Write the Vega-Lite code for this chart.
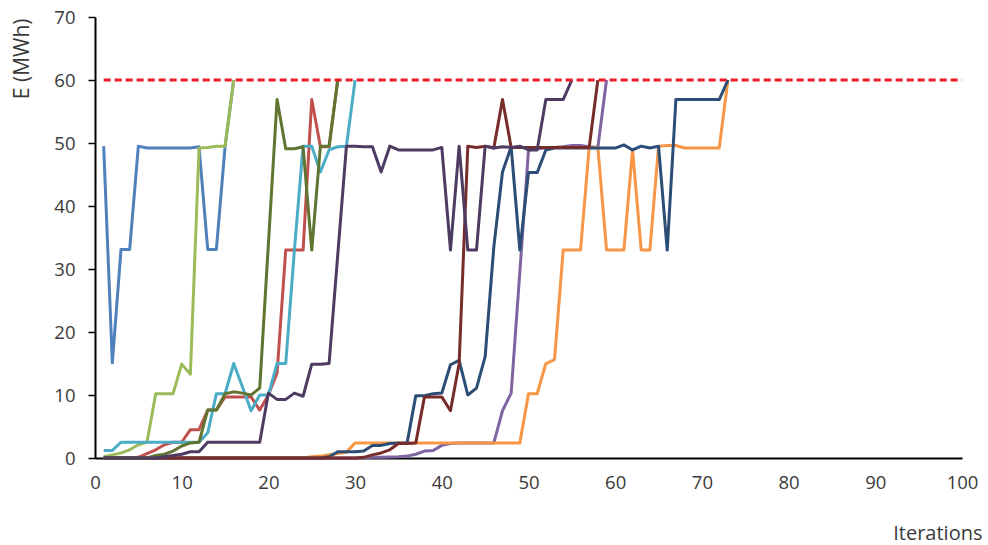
{
"$schema": "https://vega.github.io/schema/vega-lite/v6.json",
"width": 867, "height": 441,
"autosize": "none",
"padding": {"left": 95, "top": 17, "right": 26, "bottom": 87},
"background": "white",
"config": {"view": {"stroke": null}, "font": "Open Sans"},
"datasets": {
"ref": [{"x":1,"y":60},{"x":100,"y":60}],
"series": [
{"s":"s01","x":1,"y":49.5},{"s":"s01","x":2,"y":15.1},{"s":"s01","x":3,"y":33.1},{"s":"s01","x":4,"y":33.1},{"s":"s01","x":5,"y":49.5},{"s":"s01","x":6,"y":49.2},{"s":"s01","x":7,"y":49.2},{"s":"s01","x":8,"y":49.2},{"s":"s01","x":9,"y":49.2},{"s":"s01","x":10,"y":49.2},{"s":"s01","x":11,"y":49.2},{"s":"s01","x":12,"y":49.4},{"s":"s01","x":13,"y":33.1},{"s":"s01","x":14,"y":33.1},{"s":"s01","x":15,"y":49.4},{"s":"s01","x":16,"y":60},
{"s":"s02","x":1,"y":0},{"s":"s02","x":2,"y":0},{"s":"s02","x":3,"y":0},{"s":"s02","x":4,"y":0},{"s":"s02","x":5,"y":0.1},{"s":"s02","x":6,"y":0.7},{"s":"s02","x":7,"y":1.3},{"s":"s02","x":8,"y":2.1},{"s":"s02","x":9,"y":2.5},{"s":"s02","x":10,"y":2.5},{"s":"s02","x":11,"y":4.5},{"s":"s02","x":12,"y":4.5},{"s":"s02","x":13,"y":7.6},{"s":"s02","x":14,"y":7.6},{"s":"s02","x":15,"y":9.7},{"s":"s02","x":16,"y":9.7},{"s":"s02","x":17,"y":9.7},{"s":"s02","x":18,"y":9.7},{"s":"s02","x":19,"y":7.6},{"s":"s02","x":20,"y":10.0},{"s":"s02","x":21,"y":13.5},{"s":"s02","x":22,"y":33.0},{"s":"s02","x":23,"y":33.0},{"s":"s02","x":24,"y":33.0},{"s":"s02","x":25,"y":56.9},{"s":"s02","x":26,"y":49.4},{"s":"s02","x":27,"y":49.4},{"s":"s02","x":28,"y":60},
{"s":"s03","x":1,"y":0.2},{"s":"s03","x":2,"y":0.5},{"s":"s03","x":3,"y":0.8},{"s":"s03","x":4,"y":1.3},{"s":"s03","x":5,"y":2.1},{"s":"s03","x":6,"y":2.5},{"s":"s03","x":7,"y":10.2},{"s":"s03","x":8,"y":10.2},{"s":"s03","x":9,"y":10.2},{"s":"s03","x":10,"y":14.9},{"s":"s03","x":11,"y":13.3},{"s":"s03","x":12,"y":49.2},{"s":"s03","x":13,"y":49.3},{"s":"s03","x":14,"y":49.5},{"s":"s03","x":15,"y":49.5},{"s":"s03","x":16,"y":60},
{"s":"s04","x":1,"y":0},{"s":"s04","x":2,"y":0},{"s":"s04","x":3,"y":0},{"s":"s04","x":4,"y":0},{"s":"s04","x":5,"y":0},{"s":"s04","x":6,"y":0},{"s":"s04","x":7,"y":0},{"s":"s04","x":8,"y":0},{"s":"s04","x":9,"y":0},{"s":"s04","x":10,"y":0},{"s":"s04","x":11,"y":0},{"s":"s04","x":12,"y":0},{"s":"s04","x":13,"y":0},{"s":"s04","x":14,"y":0},{"s":"s04","x":15,"y":0},{"s":"s04","x":16,"y":0},{"s":"s04","x":17,"y":0},{"s":"s04","x":18,"y":0},{"s":"s04","x":19,"y":0},{"s":"s04","x":20,"y":0},{"s":"s04","x":21,"y":0},{"s":"s04","x":22,"y":0},{"s":"s04","x":23,"y":0},{"s":"s04","x":24,"y":0},{"s":"s04","x":25,"y":0},{"s":"s04","x":26,"y":0},{"s":"s04","x":27,"y":0},{"s":"s04","x":28,"y":0},{"s":"s04","x":29,"y":0},{"s":"s04","x":30,"y":0},{"s":"s04","x":31,"y":0.05},{"s":"s04","x":32,"y":0.1},{"s":"s04","x":33,"y":0.1},{"s":"s04","x":34,"y":0.15},{"s":"s04","x":35,"y":0.2},{"s":"s04","x":36,"y":0.3},{"s":"s04","x":37,"y":0.6},{"s":"s04","x":38,"y":1.1},{"s":"s04","x":39,"y":1.2},{"s":"s04","x":40,"y":2.0},{"s":"s04","x":41,"y":2.3},{"s":"s04","x":42,"y":2.4},{"s":"s04","x":43,"y":2.4},{"s":"s04","x":44,"y":2.4},{"s":"s04","x":45,"y":2.4},{"s":"s04","x":46,"y":2.4},{"s":"s04","x":47,"y":7.5},{"s":"s04","x":48,"y":10.3},{"s":"s04","x":49,"y":29.5},{"s":"s04","x":50,"y":48.9},{"s":"s04","x":51,"y":49.1},{"s":"s04","x":52,"y":49.2},{"s":"s04","x":53,"y":49.3},{"s":"s04","x":54,"y":49.4},{"s":"s04","x":55,"y":49.6},{"s":"s04","x":56,"y":49.6},{"s":"s04","x":57,"y":49.4},{"s":"s04","x":58,"y":49.3},{"s":"s04","x":59,"y":60},
{"s":"s05","x":1,"y":1.2},{"s":"s05","x":2,"y":1.2},{"s":"s05","x":3,"y":2.5},{"s":"s05","x":4,"y":2.5},{"s":"s05","x":5,"y":2.5},{"s":"s05","x":6,"y":2.5},{"s":"s05","x":7,"y":2.5},{"s":"s05","x":8,"y":2.5},{"s":"s05","x":9,"y":2.5},{"s":"s05","x":10,"y":2.5},{"s":"s05","x":11,"y":2.5},{"s":"s05","x":12,"y":2.5},{"s":"s05","x":13,"y":4.0},{"s":"s05","x":14,"y":10.2},{"s":"s05","x":15,"y":10.2},{"s":"s05","x":16,"y":15.0},{"s":"s05","x":17,"y":11.3},{"s":"s05","x":18,"y":7.5},{"s":"s05","x":19,"y":10.0},{"s":"s05","x":20,"y":10.0},{"s":"s05","x":21,"y":15.0},{"s":"s05","x":22,"y":15.0},{"s":"s05","x":23,"y":33.0},{"s":"s05","x":24,"y":49.5},{"s":"s05","x":25,"y":49.5},{"s":"s05","x":26,"y":45.4},{"s":"s05","x":27,"y":48.9},{"s":"s05","x":28,"y":49.4},{"s":"s05","x":29,"y":49.5},{"s":"s05","x":30,"y":60},
{"s":"s06","x":1,"y":0},{"s":"s06","x":2,"y":0},{"s":"s06","x":3,"y":0},{"s":"s06","x":4,"y":0},{"s":"s06","x":5,"y":0},{"s":"s06","x":6,"y":0},{"s":"s06","x":7,"y":0},{"s":"s06","x":8,"y":0},{"s":"s06","x":9,"y":0},{"s":"s06","x":10,"y":0},{"s":"s06","x":11,"y":0},{"s":"s06","x":12,"y":0},{"s":"s06","x":13,"y":0},{"s":"s06","x":14,"y":0},{"s":"s06","x":15,"y":0},{"s":"s06","x":16,"y":0},{"s":"s06","x":17,"y":0},{"s":"s06","x":18,"y":0},{"s":"s06","x":19,"y":0},{"s":"s06","x":20,"y":0},{"s":"s06","x":21,"y":0},{"s":"s06","x":22,"y":0},{"s":"s06","x":23,"y":0},{"s":"s06","x":24,"y":0},{"s":"s06","x":25,"y":0.2},{"s":"s06","x":26,"y":0.3},{"s":"s06","x":27,"y":0.5},{"s":"s06","x":28,"y":0.7},{"s":"s06","x":29,"y":0.9},{"s":"s06","x":30,"y":2.4},{"s":"s06","x":31,"y":2.4},{"s":"s06","x":32,"y":2.4},{"s":"s06","x":33,"y":2.4},{"s":"s06","x":34,"y":2.4},{"s":"s06","x":35,"y":2.4},{"s":"s06","x":36,"y":2.4},{"s":"s06","x":37,"y":2.4},{"s":"s06","x":38,"y":2.4},{"s":"s06","x":39,"y":2.4},{"s":"s06","x":40,"y":2.4},{"s":"s06","x":41,"y":2.4},{"s":"s06","x":42,"y":2.4},{"s":"s06","x":43,"y":2.4},{"s":"s06","x":44,"y":2.4},{"s":"s06","x":45,"y":2.4},{"s":"s06","x":46,"y":2.4},{"s":"s06","x":47,"y":2.4},{"s":"s06","x":48,"y":2.4},{"s":"s06","x":49,"y":2.4},{"s":"s06","x":50,"y":10.2},{"s":"s06","x":51,"y":10.2},{"s":"s06","x":52,"y":15.0},{"s":"s06","x":53,"y":15.6},{"s":"s06","x":54,"y":33.0},{"s":"s06","x":55,"y":33.0},{"s":"s06","x":56,"y":33.0},{"s":"s06","x":57,"y":49.3},{"s":"s06","x":58,"y":49.3},{"s":"s06","x":59,"y":33.0},{"s":"s06","x":60,"y":33.0},{"s":"s06","x":61,"y":33.0},{"s":"s06","x":62,"y":48.9},{"s":"s06","x":63,"y":33.0},{"s":"s06","x":64,"y":33.0},{"s":"s06","x":65,"y":49.5},{"s":"s06","x":66,"y":49.6},{"s":"s06","x":67,"y":49.6},{"s":"s06","x":68,"y":49.2},{"s":"s06","x":69,"y":49.2},{"s":"s06","x":70,"y":49.2},{"s":"s06","x":71,"y":49.2},{"s":"s06","x":72,"y":49.2},{"s":"s06","x":73,"y":60},
{"s":"s07","x":1,"y":0},{"s":"s07","x":2,"y":0},{"s":"s07","x":3,"y":0},{"s":"s07","x":4,"y":0},{"s":"s07","x":5,"y":0},{"s":"s07","x":6,"y":0},{"s":"s07","x":7,"y":0},{"s":"s07","x":8,"y":0},{"s":"s07","x":9,"y":0},{"s":"s07","x":10,"y":0},{"s":"s07","x":11,"y":0},{"s":"s07","x":12,"y":0},{"s":"s07","x":13,"y":0},{"s":"s07","x":14,"y":0},{"s":"s07","x":15,"y":0},{"s":"s07","x":16,"y":0},{"s":"s07","x":17,"y":0},{"s":"s07","x":18,"y":0},{"s":"s07","x":19,"y":0},{"s":"s07","x":20,"y":0},{"s":"s07","x":21,"y":0},{"s":"s07","x":22,"y":0},{"s":"s07","x":23,"y":0},{"s":"s07","x":24,"y":0},{"s":"s07","x":25,"y":0},{"s":"s07","x":26,"y":0},{"s":"s07","x":27,"y":0.2},{"s":"s07","x":28,"y":1.0},{"s":"s07","x":29,"y":1.0},{"s":"s07","x":30,"y":1.0},{"s":"s07","x":31,"y":1.1},{"s":"s07","x":32,"y":2.0},{"s":"s07","x":33,"y":2.0},{"s":"s07","x":34,"y":2.3},{"s":"s07","x":35,"y":2.4},{"s":"s07","x":36,"y":2.4},{"s":"s07","x":37,"y":9.9},{"s":"s07","x":38,"y":9.9},{"s":"s07","x":39,"y":10.2},{"s":"s07","x":40,"y":10.3},{"s":"s07","x":41,"y":14.8},{"s":"s07","x":42,"y":15.5},{"s":"s07","x":43,"y":10.0},{"s":"s07","x":44,"y":11.1},{"s":"s07","x":45,"y":16.1},{"s":"s07","x":46,"y":33.5},{"s":"s07","x":47,"y":45.4},{"s":"s07","x":48,"y":49.4},{"s":"s07","x":49,"y":33.0},{"s":"s07","x":50,"y":45.3},{"s":"s07","x":51,"y":45.3},{"s":"s07","x":52,"y":48.9},{"s":"s07","x":53,"y":49.2},{"s":"s07","x":54,"y":49.2},{"s":"s07","x":55,"y":49.2},{"s":"s07","x":56,"y":49.2},{"s":"s07","x":57,"y":49.2},{"s":"s07","x":58,"y":49.2},{"s":"s07","x":59,"y":49.2},{"s":"s07","x":60,"y":49.2},{"s":"s07","x":61,"y":49.7},{"s":"s07","x":62,"y":48.9},{"s":"s07","x":63,"y":49.5},{"s":"s07","x":64,"y":49.2},{"s":"s07","x":65,"y":49.5},{"s":"s07","x":66,"y":33.0},{"s":"s07","x":67,"y":56.9},{"s":"s07","x":68,"y":56.9},{"s":"s07","x":69,"y":56.9},{"s":"s07","x":70,"y":56.9},{"s":"s07","x":71,"y":56.9},{"s":"s07","x":72,"y":56.9},{"s":"s07","x":73,"y":60},
{"s":"s08","x":1,"y":0},{"s":"s08","x":2,"y":0},{"s":"s08","x":3,"y":0},{"s":"s08","x":4,"y":0},{"s":"s08","x":5,"y":0},{"s":"s08","x":6,"y":0},{"s":"s08","x":7,"y":0},{"s":"s08","x":8,"y":0},{"s":"s08","x":9,"y":0},{"s":"s08","x":10,"y":0},{"s":"s08","x":11,"y":0},{"s":"s08","x":12,"y":0},{"s":"s08","x":13,"y":0},{"s":"s08","x":14,"y":0},{"s":"s08","x":15,"y":0},{"s":"s08","x":16,"y":0},{"s":"s08","x":17,"y":0},{"s":"s08","x":18,"y":0},{"s":"s08","x":19,"y":0},{"s":"s08","x":20,"y":0},{"s":"s08","x":21,"y":0},{"s":"s08","x":22,"y":0},{"s":"s08","x":23,"y":0},{"s":"s08","x":24,"y":0},{"s":"s08","x":25,"y":0},{"s":"s08","x":26,"y":0},{"s":"s08","x":27,"y":0},{"s":"s08","x":28,"y":0},{"s":"s08","x":29,"y":0},{"s":"s08","x":30,"y":0},{"s":"s08","x":31,"y":0.1},{"s":"s08","x":32,"y":0.5},{"s":"s08","x":33,"y":0.8},{"s":"s08","x":34,"y":1.3},{"s":"s08","x":35,"y":2.3},{"s":"s08","x":36,"y":2.3},{"s":"s08","x":37,"y":2.4},{"s":"s08","x":38,"y":9.7},{"s":"s08","x":39,"y":9.7},{"s":"s08","x":40,"y":9.7},{"s":"s08","x":41,"y":7.5},{"s":"s08","x":42,"y":15.0},{"s":"s08","x":43,"y":49.5},{"s":"s08","x":44,"y":49.3},{"s":"s08","x":45,"y":49.5},{"s":"s08","x":46,"y":49.2},{"s":"s08","x":47,"y":56.9},{"s":"s08","x":48,"y":49.3},{"s":"s08","x":49,"y":49.3},{"s":"s08","x":50,"y":49.3},{"s":"s08","x":51,"y":49.3},{"s":"s08","x":52,"y":49.3},{"s":"s08","x":53,"y":49.3},{"s":"s08","x":54,"y":49.3},{"s":"s08","x":55,"y":49.3},{"s":"s08","x":56,"y":49.3},{"s":"s08","x":57,"y":49.3},{"s":"s08","x":58,"y":60},
{"s":"s09","x":1,"y":0},{"s":"s09","x":2,"y":0},{"s":"s09","x":3,"y":0},{"s":"s09","x":4,"y":0},{"s":"s09","x":5,"y":0},{"s":"s09","x":6,"y":0},{"s":"s09","x":7,"y":0.4},{"s":"s09","x":8,"y":0.6},{"s":"s09","x":9,"y":1.1},{"s":"s09","x":10,"y":1.9},{"s":"s09","x":11,"y":2.4},{"s":"s09","x":12,"y":2.5},{"s":"s09","x":13,"y":7.6},{"s":"s09","x":14,"y":7.6},{"s":"s09","x":15,"y":10.2},{"s":"s09","x":16,"y":10.5},{"s":"s09","x":17,"y":10.3},{"s":"s09","x":18,"y":10.0},{"s":"s09","x":19,"y":11.1},{"s":"s09","x":20,"y":34.0},{"s":"s09","x":21,"y":56.9},{"s":"s09","x":22,"y":49.1},{"s":"s09","x":23,"y":49.1},{"s":"s09","x":24,"y":49.4},{"s":"s09","x":25,"y":33.0},{"s":"s09","x":26,"y":49.5},{"s":"s09","x":27,"y":49.5},{"s":"s09","x":28,"y":60},
{"s":"s10","x":1,"y":0},{"s":"s10","x":2,"y":0},{"s":"s10","x":3,"y":0},{"s":"s10","x":4,"y":0},{"s":"s10","x":5,"y":0},{"s":"s10","x":6,"y":0},{"s":"s10","x":7,"y":0},{"s":"s10","x":8,"y":0.2},{"s":"s10","x":9,"y":0.4},{"s":"s10","x":10,"y":0.6},{"s":"s10","x":11,"y":1.0},{"s":"s10","x":12,"y":1.0},{"s":"s10","x":13,"y":2.5},{"s":"s10","x":14,"y":2.5},{"s":"s10","x":15,"y":2.5},{"s":"s10","x":16,"y":2.5},{"s":"s10","x":17,"y":2.5},{"s":"s10","x":18,"y":2.5},{"s":"s10","x":19,"y":2.5},{"s":"s10","x":20,"y":10.3},{"s":"s10","x":21,"y":9.3},{"s":"s10","x":22,"y":9.3},{"s":"s10","x":23,"y":10.3},{"s":"s10","x":24,"y":9.8},{"s":"s10","x":25,"y":14.9},{"s":"s10","x":26,"y":14.9},{"s":"s10","x":27,"y":15.0},{"s":"s10","x":28,"y":32.3},{"s":"s10","x":29,"y":49.5},{"s":"s10","x":30,"y":49.5},{"s":"s10","x":31,"y":49.4},{"s":"s10","x":32,"y":49.4},{"s":"s10","x":33,"y":45.4},{"s":"s10","x":34,"y":49.5},{"s":"s10","x":35,"y":48.9},{"s":"s10","x":36,"y":48.9},{"s":"s10","x":37,"y":48.9},{"s":"s10","x":38,"y":48.9},{"s":"s10","x":39,"y":48.9},{"s":"s10","x":40,"y":49.3},{"s":"s10","x":41,"y":33.0},{"s":"s10","x":42,"y":49.5},{"s":"s10","x":43,"y":33.0},{"s":"s10","x":44,"y":33.0},{"s":"s10","x":45,"y":49.5},{"s":"s10","x":46,"y":49.2},{"s":"s10","x":47,"y":49.4},{"s":"s10","x":48,"y":49.3},{"s":"s10","x":49,"y":49.5},{"s":"s10","x":50,"y":48.9},{"s":"s10","x":51,"y":48.9},{"s":"s10","x":52,"y":56.9},{"s":"s10","x":53,"y":56.9},{"s":"s10","x":54,"y":56.9},{"s":"s10","x":55,"y":60}
]
},
"layer": [
{
"data": {"name": "series"},
"mark": {"type": "line", "strokeWidth": 3, "strokeJoin": "round"},
"encoding": {
"x": {"field": "x", "type": "quantitative", "scale": {"domain": [0, 100], "nice": false, "zero": false},
"axis": {"values": [0,10,20,30,40,50,60,70,80,90,100], "ticks": false, "grid": false, "domainColor": "#000000", "domainWidth": 2, "labelFontSize": 18.5, "labelColor": "#3a3a3a", "labelPadding": 15, "labelFlush": false, "labelOverlap": false, "title": "Iterations", "titleFontSize": 20, "titleFontWeight": "normal", "titleColor": "#3a3a3a", "titleAnchor": "end", "titleAlign": "right", "titleBaseline": "middle", "titleX": 887, "titleY": 75}},
"y": {"field": "y", "type": "quantitative", "scale": {"domain": [0, 70], "nice": false},
"axis": {"values": [0,10,20,30,40,50,60,70], "grid": false, "ticks": true, "tickSize": 7, "tickWidth": 1.5, "tickColor": "#000000", "domainColor": "#000000", "domainWidth": 2, "labelFontSize": 18.5, "labelColor": "#3a3a3a", "labelPadding": 13, "labelOverlap": false, "title": "E (MWh)", "titleFontSize": 21, "titleFontWeight": "normal", "titleColor": "#3a3a3a", "titleAnchor": "end", "titleAngle": -90, "titleAlign": "right", "titleBaseline": "middle", "titleX": -73, "titleY": 1}},
"color": {"field": "s", "type": "nominal", "legend": null,
"scale": {"domain": ["s01","s02","s03","s04","s05","s06","s07","s08","s09","s10"],
"range": ["#4F81BD","#C0504D","#9BBB59","#8064A2","#4BACC6","#F79646","#2C4D75","#772C2A","#5F7530","#4D3B62"]}}
}
},
{
"data": {"name": "ref"},
"mark": {"type": "line", "color": "#ED1C24", "strokeWidth": 3, "strokeDash": [7, 4]},
"encoding": {
"x": {"field": "x", "type": "quantitative"},
"y": {"field": "y", "type": "quantitative"}
}
}
]
}
